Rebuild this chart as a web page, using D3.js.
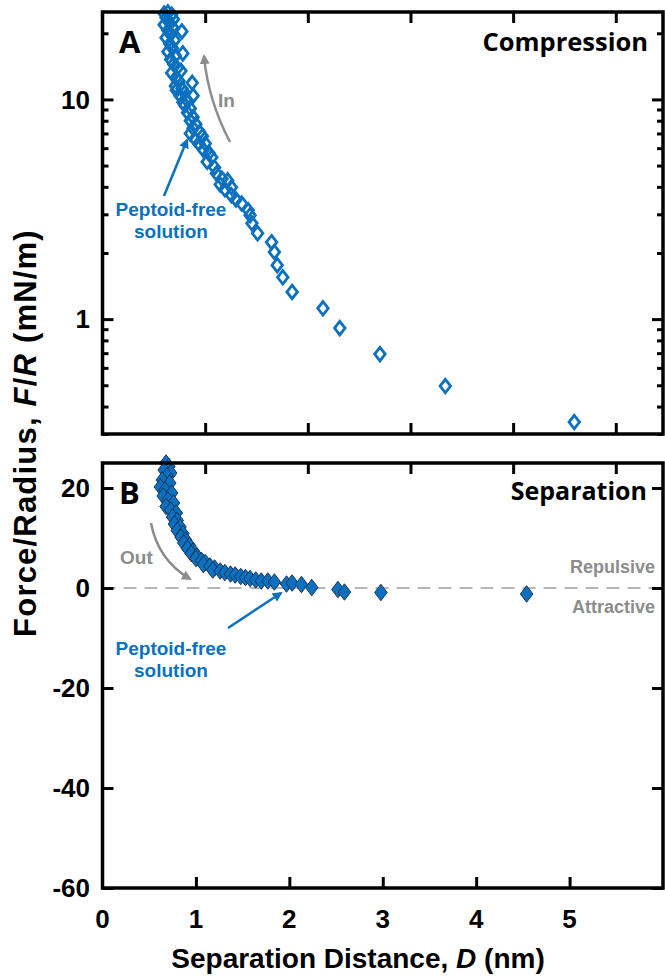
<!DOCTYPE html>
<html><head><meta charset="utf-8">
<script src="https://cdn.jsdelivr.net/npm/d3@7/dist/d3.min.js"></script>
<style>body{margin:0;background:#fff}svg{display:block}</style>
</head><body>
<svg id="c" width="665" height="977"></svg>
<script>
// ---- data ----
const compressionD = [0.66,0.70,0.74,0.68,0.76,0.71,0.66,0.75,0.70,0.85,0.73,0.68,0.77,0.72,0.75,0.70,0.86,0.78,0.73,0.76,0.80,0.84,0.74,0.79,0.82,0.96,0.78,0.85,0.79,0.88,0.83,0.97,0.90,0.86,0.88,0.94,0.91,0.97,0.94,1.00,0.97,1.04,0.94,0.99,1.07,1.03,1.10,1.08,1.14,1.17,1.12,1.20,1.22,1.28,1.26,1.34,1.31,1.38,1.38,1.43,1.49,1.56,1.58,1.60,1.66,1.81,1.84,1.87,1.93,2.03,2.36,2.54,2.97,3.67,5.05];
const compressionF = [24.6,24.9,24.3,23.6,23.2,22.5,21.9,21.3,20.6,20.4,19.8,19.1,18.6,17.9,17.1,16.5,16.2,15.8,15.2,14.5,13.9,13.5,13.2,12.6,12.1,11.9,11.5,11.2,11.0,10.7,10.4,10.4,10.0,9.7,9.4,9.1,8.7,8.3,8.0,7.7,7.4,7.1,7.0,6.6,6.8,6.3,6.3,5.9,5.7,5.45,5.2,4.9,4.6,4.35,4.1,4.28,3.9,3.98,3.66,3.5,3.36,3.13,2.97,2.73,2.46,2.24,2.02,1.76,1.55,1.33,1.12,0.91,0.693,0.496,0.340];
const separationD = [0.68,0.71,0.66,0.73,0.69,0.64,0.72,0.62,0.67,0.74,0.65,0.70,0.76,0.68,0.73,0.79,0.75,0.80,0.77,0.83,0.80,0.86,0.84,0.89,0.87,0.93,0.91,0.97,0.95,1.01,1.00,1.06,1.10,1.08,1.15,1.20,1.18,1.26,1.31,1.37,1.42,1.48,1.53,1.58,1.64,1.70,1.77,1.84,1.97,2.03,2.13,2.24,2.52,2.59,2.98,4.54];
const separationF = [25.0,24.3,23.6,23.0,22.4,21.6,21.0,20.2,19.6,19.0,18.4,17.6,17.0,16.3,15.6,15.0,14.2,13.5,12.8,12.2,11.5,10.9,10.2,9.6,9.0,8.5,7.9,7.4,6.9,6.4,5.9,5.5,5.1,4.7,4.4,4.0,3.6,3.4,3.1,2.8,2.6,2.3,2.1,1.9,1.6,1.4,1.4,1.2,0.8,1.0,0.7,0.1,-0.3,-0.8,-0.9,-1.2];
const xTickLabels = [0,1,2,3,4,5];
const topMajorTicks = [1,10];
const topMinorTicks = [0.3,0.4,0.5,0.6,0.7,0.8,0.9,2,3,4,5,6,7,8,9,20];
const bottomYTicks = [20,0,-20,-40,-60];
const mirrorXTicks = [1,2,3,4,5];

// ---- layout ----
const L = 102.5, R = 663;
const topY0 = 12, topY1 = 434, botY0 = 463, botY1 = 888;
const blue = "#0a70c0";
const fontA = "'Liberation Sans', Arial, sans-serif";
const fontB = "'Open Sans', sans-serif";

const svg = d3.select("#c");
const x = d3.scaleLinear().domain([0, 6]).range([L, R]);
const xMirror = d3.scaleLinear().domain([0, 5.46]).range([L, R]);
const yTop = d3.scaleLog().domain([0.3, 25]).range([topY1, topY0]);
const yBot = d3.scaleLinear().domain([-60, 25]).range([botY1, botY0]);

const diamond = (w, h) => ({draw(ctx){ctx.moveTo(0,-h/2);ctx.lineTo(w/2,0);ctx.lineTo(0,h/2);ctx.lineTo(-w/2,0);ctx.closePath();}});

// Dashed zero line
svg.append("line").attr("x1", L).attr("x2", R).attr("y1", yBot(0)).attr("y2", yBot(0))
  .attr("stroke", "#a0a0a0").attr("stroke-width", 1.6).attr("stroke-dasharray", "13,8");

// Data - compression (open)
const comp = compressionD.map((d,i)=>({d, f: compressionF[i]}));
svg.append("g").selectAll("path").data(comp).join("path")
  .attr("transform", p => `translate(${x(p.d)},${yTop(p.f)})`)
  .attr("d", d3.symbol().type(diamond(10.5, 13.5))())
  .attr("fill", "none").attr("stroke", blue).attr("stroke-width", 2.8);

// Data - separation (filled)
const sep = separationD.map((d,i)=>({d, f: separationF[i]}));
svg.append("g").selectAll("path").data(sep).join("path")
  .attr("transform", p => `translate(${x(p.d)},${yBot(p.f)})`)
  .attr("d", d3.symbol().type(diamond(12.5, 16.5))())
  .attr("fill", blue).attr("stroke", "#1b3556").attr("stroke-width", 1);

// Frames and ticks
function frame(y0, y1){
  svg.append("rect").attr("x", L).attr("y", y0).attr("width", R-L).attr("height", y1-y0)
    .attr("fill", "none").attr("stroke", "#000").attr("stroke-width", 3.5);
}
frame(topY0, topY1);
frame(botY0, botY1);

function tickStyle(g){ g.select(".domain").remove(); g.selectAll("line").attr("stroke","#000").attr("stroke-width",3); g.selectAll("text").remove(); }

// top panel y ticks
svg.append("g").attr("transform", `translate(${L},0)`).call(d3.axisRight(yTop).tickValues(topMajorTicks).tickSize(11).tickFormat("")).call(tickStyle);
svg.append("g").attr("transform", `translate(${L},0)`).call(d3.axisRight(yTop).tickValues(topMinorTicks).tickSize(6).tickFormat("")).call(tickStyle);
svg.append("g").attr("transform", `translate(${R},0)`).call(d3.axisLeft(yTop).tickValues(topMajorTicks).tickSize(11).tickFormat("")).call(tickStyle);
svg.append("g").attr("transform", `translate(${R},0)`).call(d3.axisLeft(yTop).tickValues(topMinorTicks).tickSize(6).tickFormat("")).call(tickStyle);
// top panel y labels
svg.append("g").selectAll("text").data(topMajorTicks).join("text")
  .attr("x", 90).attr("y", d => yTop(d)).attr("dy", "0.36em").attr("text-anchor", "end")
  .attr("font-family", fontA).attr("font-weight", "bold").attr("font-size", 26).text(d => d);
// top panel x mirror ticks
svg.append("g").attr("transform", `translate(0,${topY0})`).call(d3.axisBottom(xMirror).tickValues(mirrorXTicks).tickSize(11).tickFormat("")).call(tickStyle);
svg.append("g").attr("transform", `translate(0,${topY1})`).call(d3.axisTop(xMirror).tickValues(mirrorXTicks).tickSize(11).tickFormat("")).call(tickStyle);

// bottom panel
svg.append("g").attr("transform", `translate(${L},0)`).call(d3.axisRight(yBot).tickValues(bottomYTicks).tickSize(11).tickFormat("")).call(tickStyle);
svg.append("g").attr("transform", `translate(${R},0)`).call(d3.axisLeft(yBot).tickValues(bottomYTicks).tickSize(11).tickFormat("")).call(tickStyle);
svg.append("g").attr("transform", `translate(0,${botY0})`).call(d3.axisBottom(xMirror).tickValues(mirrorXTicks).tickSize(11).tickFormat("")).call(tickStyle);
svg.append("g").attr("transform", `translate(0,${botY1})`).call(d3.axisTop(x).tickValues(xTickLabels.slice(1)).tickSize(11).tickFormat("")).call(tickStyle);
svg.append("g").selectAll("text").data(bottomYTicks).join("text")
  .attr("x", 90).attr("y", d => yBot(d)).attr("dy", "0.36em").attr("text-anchor", "end")
  .attr("font-family", fontA).attr("font-weight", "bold").attr("font-size", 26).text(d => d);
svg.append("g").selectAll("text").data(xTickLabels).join("text")
  .attr("x", d => x(d)).attr("y", 928).attr("text-anchor", "middle")
  .attr("font-family", fontA).attr("font-weight", "bold").attr("font-size", 26).text(d => d);

// axis titles
const xt = svg.append("text").attr("x", 358).attr("y", 968).attr("text-anchor", "middle")
  .attr("font-family", fontA).attr("font-weight", "bold").attr("font-size", 28);
xt.append("tspan").text("Separation Distance, ");
xt.append("tspan").attr("font-style", "italic").text("D");
xt.append("tspan").text(" (nm)");
const yt = svg.append("text").attr("transform", "translate(36,433) rotate(-90)").attr("text-anchor", "middle")
  .attr("font-family", fontA).attr("font-weight", "bold").attr("font-size", 31).attr("letter-spacing", 1.2);
yt.append("tspan").text("Force/Radius, ");
yt.append("tspan").attr("font-style", "italic").text("F");
yt.append("tspan").text("/");
yt.append("tspan").attr("font-style", "italic").text("R");
yt.append("tspan").text(" (mN/m)");

// panel labels
svg.append("text").attr("x", 119).attr("y", 53).attr("font-family", fontB).attr("font-weight", 700).attr("font-size", 31).text("A");
svg.append("text").attr("x", 119).attr("y", 504).attr("font-family", fontB).attr("font-weight", 700).attr("font-size", 31).text("B");
svg.append("text").attr("x", 648).attr("y", 51).attr("text-anchor", "end").attr("font-family", fontB).attr("font-weight", 700).attr("font-size", 25.5).text("Compression");
svg.append("text").attr("x", 647).attr("y", 500).attr("text-anchor", "end").attr("font-family", fontB).attr("font-weight", 700).attr("font-size", 25).text("Separation");

// gray annotations
const gray = "#8c8c8c";
svg.append("text").attr("x", 655).attr("y", 573).attr("text-anchor", "end").attr("font-family", fontA).attr("font-weight", "bold").attr("font-size", 18).attr("fill", gray).text("Repulsive");
svg.append("text").attr("x", 655).attr("y", 613).attr("text-anchor", "end").attr("font-family", fontA).attr("font-weight", "bold").attr("font-size", 18).attr("fill", gray).text("Attractive");
svg.append("text").attr("x", 218).attr("y", 107).attr("font-family", fontA).attr("font-weight", "bold").attr("font-size", 19).attr("fill", gray).text("In");
svg.append("text").attr("x", 120).attr("y", 564).attr("font-family", fontA).attr("font-weight", "bold").attr("font-size", 19).attr("fill", gray).text("Out");

const defs = svg.append("defs");
function marker(id, color){
  defs.append("marker").attr("id", id).attr("viewBox", "0 0 10 10").attr("refX", 8).attr("refY", 5)
    .attr("markerWidth", 4).attr("markerHeight", 4).attr("orient", "auto-start-reverse")
    .append("path").attr("d", "M0,0 L10,5 L0,10 Z").attr("fill", color);
}
marker("ag", gray); marker("ab", blue);
svg.append("path").attr("d", "M230,142 Q208,100 204,56").attr("fill", "none").attr("stroke", gray).attr("stroke-width", 2.5).attr("marker-end", "url(#ag)");
svg.append("path").attr("d", "M151,523 Q158,560 190,579").attr("fill", "none").attr("stroke", gray).attr("stroke-width", 2.5).attr("marker-end", "url(#ag)");
svg.append("path").attr("d", "M164,196 L187,140").attr("fill", "none").attr("stroke", blue).attr("stroke-width", 2.5).attr("marker-end", "url(#ab)");
svg.append("path").attr("d", "M228,628 L281,593").attr("fill", "none").attr("stroke", blue).attr("stroke-width", 2.5).attr("marker-end", "url(#ab)");

// blue annotations
function pf(cx, y1, y2){
  svg.append("text").attr("x", cx).attr("y", y1).attr("text-anchor", "middle").attr("font-family", fontA).attr("font-weight", "bold").attr("font-size", 19).attr("fill", blue).text("Peptoid-free");
  svg.append("text").attr("x", cx).attr("y", y2).attr("text-anchor", "middle").attr("font-family", fontA).attr("font-weight", "bold").attr("font-size", 19).attr("fill", blue).text("solution");
}
pf(171, 216, 238);
pf(171, 655, 677);
</script>
</body></html>
